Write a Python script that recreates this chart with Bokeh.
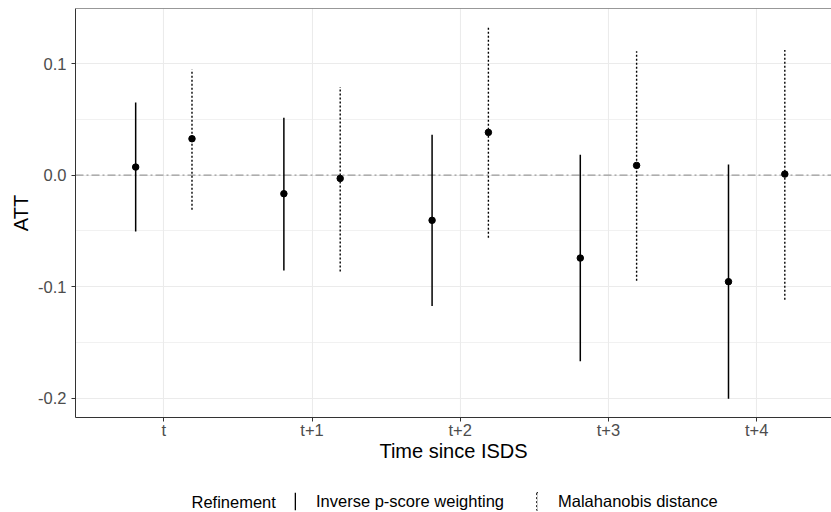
from bokeh.plotting import figure
from bokeh.layouts import column
from bokeh.models import (ColumnDataSource, Range1d, FixedTicker, Span, Legend,
                          LegendItem, NumeralTickFormatter, Label)
from bokeh.embed import file_html
from bokeh.resources import INLINE

# ---- data ----
periods = ["t", "t+1", "t+2", "t+3", "t+4"]
methods = ["Inverse p-score weighting", "Malahanobis distance"]
legend_title = "Refinement"

ipw_est = [0.0072, -0.0167, -0.0406, -0.0744, -0.0956]
ipw_lo = [-0.0505, -0.0855, -0.1175, -0.1670, -0.2005]
ipw_hi = [0.0652, 0.0515, 0.0362, 0.0183, 0.0096]

mah_est = [0.0326, -0.0030, 0.0383, 0.0087, 0.0009]
mah_lo = [-0.0310, -0.0864, -0.0561, -0.0947, -0.1117]
mah_hi = [0.0948, 0.0790, 0.1327, 0.1110, 0.1122]

y_ticks = [-0.2, -0.1, 0.0, 0.1]
y_minor = [-0.15, -0.05, 0.05]

FONT = "Liberation Sans"
dodge = 0.19

pos = list(range(1, len(periods) + 1))
src_ipw = ColumnDataSource(dict(x=[q - dodge for q in pos], est=ipw_est, lo=ipw_lo, hi=ipw_hi))
src_mah = ColumnDataSource(dict(x=[q + dodge for q in pos], est=mah_est, lo=mah_lo, hi=mah_hi))

y_top = 0.1494
y_bot = -0.2174

W = 831
H_MAIN = 470
H_LEG = 42
LEFT = 75

p = figure(width=W, height=H_MAIN, output_backend="svg", toolbar_location=None,
           x_range=Range1d(0.404, 5.505), y_range=Range1d(y_bot, y_top),
           min_border_left=LEFT, min_border_right=0, min_border_top=8,
           min_border_bottom=H_MAIN - 417)
p.outline_line_color = None
p.background_fill_color = "white"
p.border_fill_color = "white"

for ax in (p.xaxis[0], p.yaxis[0]):
    ax.axis_line_color = "#333333"
    ax.axis_line_width = 1
    ax.major_tick_line_color = "#333333"
    ax.major_tick_in = 0
    ax.major_tick_out = 4
    ax.minor_tick_line_color = None
    ax.major_label_text_font = FONT
    ax.major_label_text_font_size = "16.5px"
    ax.major_label_text_color = "#4D4D4D"
    ax.axis_label_text_font = FONT
    ax.axis_label_text_font_size = "20px"
    ax.axis_label_text_font_style = "normal"
    ax.axis_label_text_color = "black"

p.xaxis.ticker = FixedTicker(ticks=pos)
p.xaxis.major_label_overrides = {k: v for k, v in zip(pos, periods)}
p.xaxis.axis_label = "Time since ISDS"
p.xaxis.major_label_standoff = -1
p.xaxis.axis_label_standoff = -2

p.yaxis.ticker = FixedTicker(ticks=y_ticks, minor_ticks=y_minor)
p.yaxis.formatter = NumeralTickFormatter(format="0.0")
p.yaxis.axis_label = "ATT"
p.yaxis.major_label_standoff = 5
p.yaxis.axis_label_standoff = 3

p.xgrid.ticker = FixedTicker(ticks=pos)
p.xgrid.grid_line_color = "#EBEBEB"
p.xgrid.grid_line_width = 1.1
p.ygrid.grid_line_color = "#EBEBEB"
p.ygrid.grid_line_width = 1.1
p.ygrid.minor_grid_line_color = "#EBEBEB"
p.ygrid.minor_grid_line_width = 0.7

# panel top border
p.add_layout(Span(location=y_top, dimension="width", line_color="#333333", line_width=1))

# zero reference line
p.add_layout(Span(location=0, dimension="width", line_color="#9A9A9A", line_width=1.1,
                  line_dash="8 3 2 3", level="underlay"))

# error bars and estimates
p.segment(x0="x", y0="lo", x1="x", y1="hi", source=src_ipw, line_color="black", line_width=1.5)
p.segment(x0="x", y0="lo", x1="x", y1="hi", source=src_mah, line_color="black", line_width=1.4,
          line_dash="2 2")
p.scatter(x="x", y="est", source=src_ipw, size=6.5, color="black")
p.scatter(x="x", y="est", source=src_mah, size=6.5, color="black")

# ---- legend strip (its frame is aligned with the main plot frame by the column) ----
# the strip's ranges lie away from the data, so the proxy glyphs only show as legend keys
lg = figure(width=W, height=H_LEG, output_backend="svg", toolbar_location=None,
            x_range=Range1d(100, 101), y_range=Range1d(100, 101),
            x_axis_location=None, y_axis_location=None,
            min_border_left=0, min_border_right=0, min_border_top=0, min_border_bottom=0)
lg.outline_line_color = None
lg.xgrid.visible = False
lg.ygrid.visible = False

# narrow rectangle keys -> vertical line keys, like ggplot's linerange keys
k1 = lg.rect(x="x", y="est", source=src_ipw, width=0, height=0,
             fill_color="black", line_color=None)
k2 = lg.rect(x="x", y="est", source=src_mah, width=0, height=0, fill_color=None,
             line_color="black", line_width=1.0, line_dash="2 2")

legend = Legend(items=[LegendItem(label=methods[0], renderers=[k1]),
                       LegendItem(label=methods[1], renderers=[k2])],
                orientation="horizontal", location=(294 - LEFT, 0),
                glyph_width=2, glyph_height=22, label_height=21,
                label_standoff=20, spacing=32,
                padding=0, margin=0,
                background_fill_alpha=0, border_line_color=None,
                label_text_font=FONT, label_text_font_size="16.5px", label_text_color="black")
lg.add_layout(legend, "center")

lg.add_layout(Label(x=191 - LEFT, y=10.5, x_units="screen", y_units="screen", text=legend_title,
                    text_baseline="middle", text_align="left", text_font=FONT,
                    text_font_size="16.5px", text_color="black"))

layout = column(p, lg, spacing=0)
open("out.html", "w").write(file_html(layout, INLINE))
